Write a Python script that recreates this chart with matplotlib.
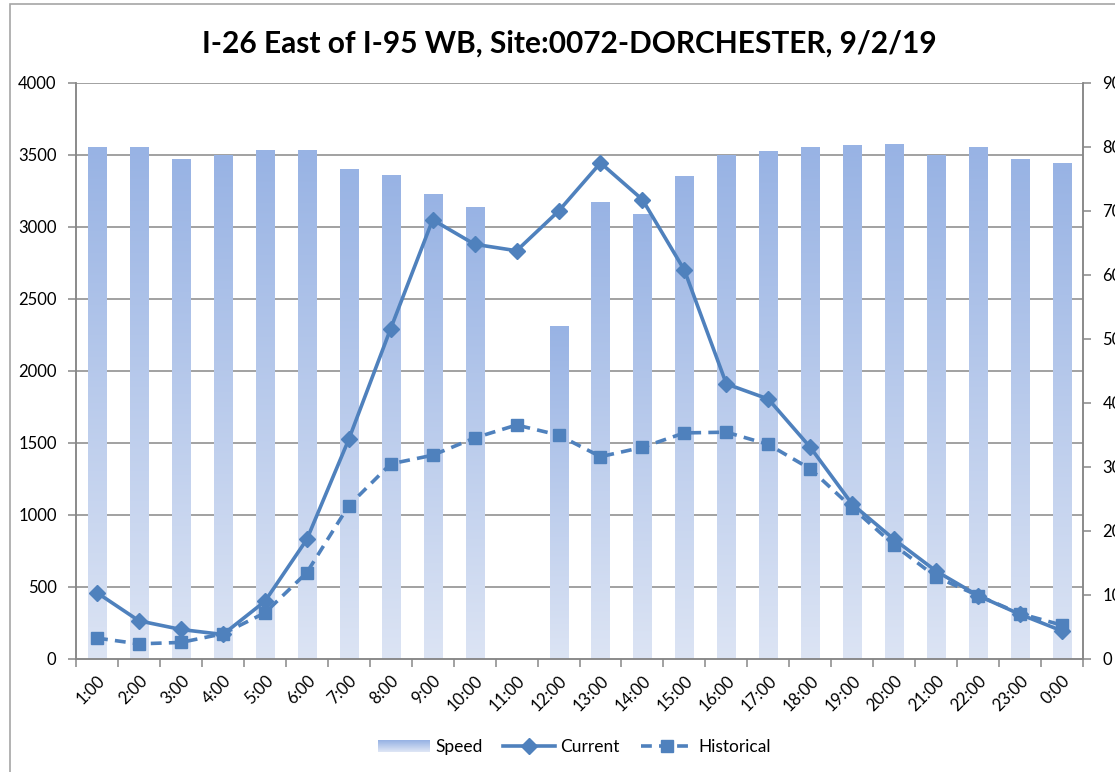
import numpy as np
import matplotlib
matplotlib.use("Agg")
import matplotlib.pyplot as plt
from matplotlib.colors import LinearSegmentedColormap
from matplotlib.patches import Rectangle
from matplotlib.lines import Line2D
from matplotlib.legend_handler import HandlerBase

plt.rcParams['font.family'] = ['Lato', 'DejaVu Sans']

# Datos
hours = ["1:00", "2:00", "3:00", "4:00", "5:00", "6:00", "7:00", "8:00",
         "9:00", "10:00", "11:00", "12:00", "13:00", "14:00", "15:00", "16:00",
         "17:00", "18:00", "19:00", "20:00", "21:00", "22:00", "23:00", "0:00"]

# velocidad (eje derecho, 0-90); 11:00 sin dato
speed = [79.9, 79.9, 78.1, 78.7, 79.4, 79.4, 76.5, 75.6,
         72.6, 70.6, np.nan, 52.0, 71.3, 69.5, 75.4, 78.7,
         79.3, 79.9, 80.2, 80.4, 78.7, 79.9, 78.1, 77.5]

current = [460, 265, 205, 170, 400, 830, 1525, 2295,
           3050, 2880, 2835, 3110, 3445, 3190, 2700, 1910,
           1805, 1470, 1075, 830, 610, 440, 310, 195]

historical = [145, 105, 115, 175, 320, 600, 1065, 1355,
              1415, 1535, 1625, 1555, 1405, 1470, 1570, 1575,
              1490, 1320, 1050, 790, 570, 440, 315, 235]

line_color = "#4F81BD"
axis_gray = "#878787"
bar_cmap = LinearSegmentedColormap.from_list("bar", ["#DCE4F4", "#98B3E4"])

fig = plt.figure(figsize=(11.15, 7.72), dpi=100)
ax = fig.add_axes([0.0682, 0.1464, 0.9031, 0.7461])
ax2 = ax.twinx()

# marco del grafico
fig.patches.append(Rectangle((10 / 1115, -0.05), 1.2, 1 - 4 / 772 + 0.05,
                             transform=fig.transFigure, fill=False,
                             edgecolor="#A6A6A6", linewidth=1.2))

x = np.arange(len(hours))
bar_w = 0.43
grad = np.linspace(0, 1, 256).reshape(-1, 1)

# barras con degradado (eje derecho)
for xi, s in zip(x, speed):
    if np.isnan(s):
        continue
    ax2.imshow(grad, extent=[xi - bar_w / 2, xi + bar_w / 2, 0, s],
               origin="lower", aspect="auto", cmap=bar_cmap, zorder=1)

ax2.set_ylim(0, 90)
ax2.set_yticks(np.arange(0, 91, 10))

# lineas (eje izquierdo, dibujado encima)
ax.set_zorder(ax2.get_zorder() + 1)
ax.patch.set_visible(False)
ax2.patch.set_visible(True)
ax2.patch.set_facecolor("white")

ax.plot(x, current, color=line_color, linewidth=2.6, marker="D",
        markersize=8, label="Current", zorder=4)
ax.plot(x, historical, color=line_color, linewidth=2.6, linestyle=(0, (3, 2)),
        marker="s", markersize=9, label="Historical", zorder=3)

ax.set_ylim(0, 4000)
ax.set_yticks(np.arange(0, 4001, 500))
ax.set_xlim(-0.5, len(hours) - 0.5)
ax2.set_xlim(-0.5, len(hours) - 0.5)

# lineas de cuadricula detras de las barras
for v in np.arange(500, 4001, 500):
    ax2.axhline(v * 90 / 4000, color=axis_gray, linewidth=1.1, zorder=0)

ax.set_xticks(x)
ax.set_xticklabels(hours, rotation=45, ha="right", rotation_mode="anchor",
                   fontsize=12)
ax.set_xticks(np.arange(-0.5, len(hours), 1), minor=True)
ax.tick_params(axis="x", which="major", length=0, pad=10)
ax.tick_params(axis="x", which="minor", length=6, color=axis_gray, width=1.1)
ax.tick_params(axis="y", length=6, color=axis_gray, width=1.1, labelsize=12, pad=8)
ax2.tick_params(axis="y", length=6, color=axis_gray, width=1.1, labelsize=12, pad=8)
ax2.tick_params(axis="x", which="both", length=0, labelbottom=False)

for a in (ax, ax2):
    for sp in a.spines.values():
        sp.set_color(axis_gray)
        sp.set_linewidth(1.1)
    a.spines["top"].set_visible(False)

ax.set_title("I-26 East of I-95 WB, Site:0072-DORCHESTER, 9/2/19",
             fontsize=21.5, fontweight="bold", pad=22, x=0.49)


# leyenda con degradado para la velocidad
class GradientHandler(HandlerBase):
    def create_artists(self, legend, orig_handle, xdescent, ydescent,
                       width, height, fontsize, trans):
        n = 12
        arts = []
        for i in range(n):
            c = bar_cmap(1 - i / (n - 1))
            r = Rectangle((-xdescent, -ydescent + height * (n - 1 - i) / n),
                          width, height / n, facecolor=c, edgecolor="none",
                          transform=trans)
            arts.append(r)
        return arts


speed_handle = Rectangle((0, 0), 1, 1)
cur_handle = Line2D([], [], color=line_color, linewidth=2.6, marker="D", markersize=8)
hist_handle = Line2D([], [], color=line_color, linewidth=2.6, linestyle=(0, (3, 2)),
                     marker="s", markersize=9)
fig.legend([speed_handle, cur_handle, hist_handle], ["Speed", "Current", "Historical"],
           handler_map={Rectangle: GradientHandler()},
           loc="center", bbox_to_anchor=(0.515, 1 - 747 / 772), ncol=3,
           frameon=False, fontsize=12.5, handlelength=3.0, columnspacing=1.2,
           handletextpad=0.3)

fig.savefig("out.png", dpi=100)
